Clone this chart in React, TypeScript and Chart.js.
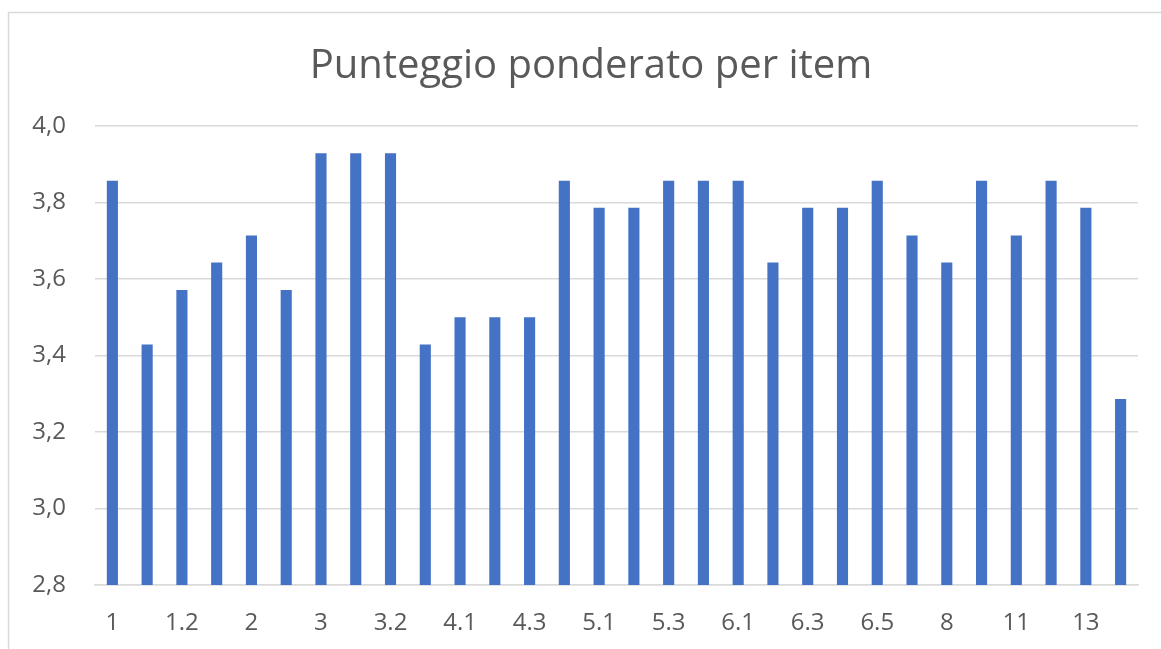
import React, { useEffect, useRef } from "react";
import { Chart, registerables } from "chart.js";

Chart.register(...registerables);

const categories = [
  "1", "1.1", "1.2", "1.3", "2", "2.1", "3", "3.1", "3.2", "4",
  "4.1", "4.2", "4.3", "5", "5.1", "5.2", "5.3", "6", "6.1", "6.2",
  "6.3", "6.4", "6.5", "7", "8", "9", "11", "12", "13", "14",
];

const scores = [
  3.857, 3.429, 3.571, 3.643, 3.714, 3.571, 3.929, 3.929, 3.929, 3.429,
  3.5, 3.5, 3.5, 3.857, 3.786, 3.786, 3.857, 3.857, 3.857, 3.643,
  3.786, 3.786, 3.857, 3.714, 3.643, 3.857, 3.714, 3.857, 3.786, 3.286,
];

const titleText = "Punteggio ponderato per item";
const yMin = 2.8;
const yMax = 4.0;
const yStep = 0.2;

const FONT = "'Open Sans', sans-serif";
const TEXT = "#595959";
const GRID = "#D9D9D9";
const BAR = "#4472C4";

const frameTitlePlugin = {
  id: "frameTitle",
  beforeDraw(chart: any) {
    const ctx = chart.ctx;
    ctx.save();
    ctx.fillStyle = "#ffffff";
    ctx.fillRect(0, 0, chart.width, chart.height);
    ctx.strokeStyle = GRID;
    ctx.lineWidth = 1.5;
    ctx.strokeRect(8.5, 12.5, chart.width + 20, chart.height + 20);
    ctx.restore();
  },
  afterDraw(chart: any) {
    const ctx = chart.ctx;
    ctx.save();
    ctx.fillStyle = TEXT;
    ctx.font = `normal 40px ${FONT}`;
    ctx.textAlign = "center";
    ctx.textBaseline = "alphabetic";
    ctx.fillText(titleText, 591, 78);
    ctx.restore();
  },
};

export default function App() {
  const ref = useRef<HTMLCanvasElement | null>(null);
  useEffect(() => {
    if (!ref.current) return;
    const chart = new Chart(ref.current, {
      type: "bar",
      data: {
        labels: categories,
        datasets: [
          {
            data: scores,
            backgroundColor: BAR,
            barPercentage: 0.32,
            categoryPercentage: 1,
          },
        ],
      },
      options: {
        animation: false,
        responsive: false,
        maintainAspectRatio: false,
        layout: { padding: { left: 0, right: 23, top: 126, bottom: 0 } },
        plugins: {
          legend: { display: false },
          tooltip: { enabled: false },
          title: { display: false },
        },
        scales: {
          x: {
            afterFit: (s: any) => {
              s.height = 64;
            },
            grid: { display: false, drawTicks: false },
            border: { display: true, color: GRID, width: 1.5 },
            ticks: {
              autoSkip: false,
              maxRotation: 0,
              padding: 24,
              color: TEXT,
              font: { family: FONT, size: 24 },
              callback: (_v: any, i: number) => (i % 2 === 0 ? categories[i] : ""),
            },
          },
          y: {
            min: yMin,
            max: yMax,
            afterFit: (s: any) => {
              s.width = 95;
            },
            grid: { color: GRID, lineWidth: 1.5, drawTicks: false },
            border: { display: false },
            ticks: {
              stepSize: yStep,
              padding: 29,
              color: TEXT,
              font: { family: FONT, size: 24 },
              callback: (v: any) => Number(v).toFixed(1).replace(".", ","),
            },
          },
        },
      },
      plugins: [frameTitlePlugin],
    });
    return () => chart.destroy();
  }, []);
  return (
    <div style={{ position: "fixed", left: 0, top: 0, width: 1161, height: 649 }}>
      <canvas ref={ref} width={1161} height={649} style={{ width: 1161, height: 649 }} />
    </div>
  );
}
